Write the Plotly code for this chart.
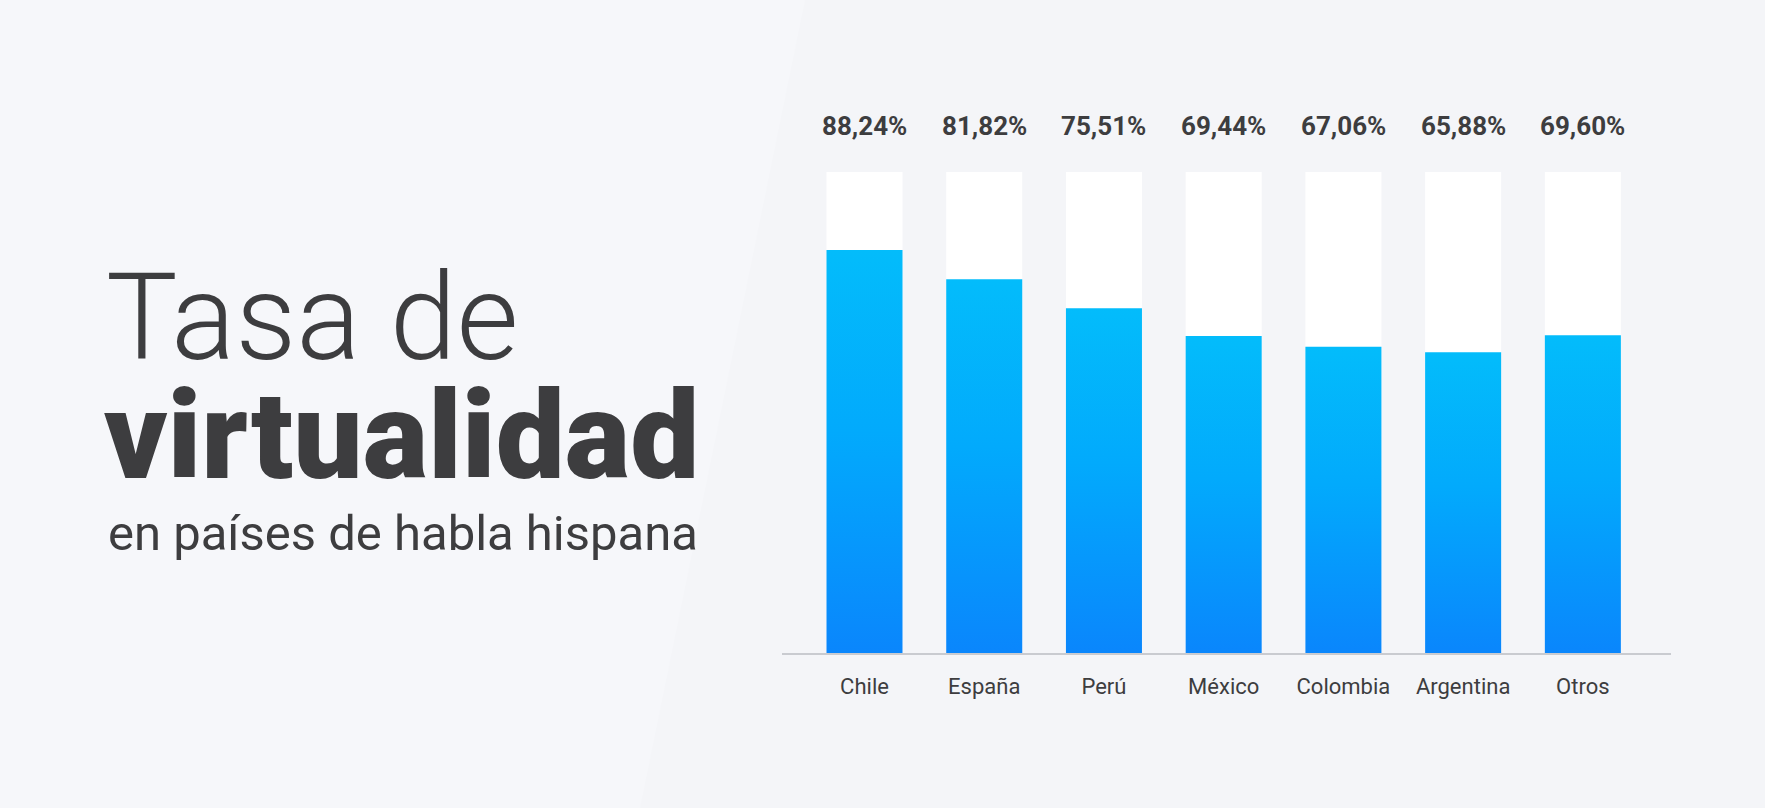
import plotly.graph_objects as go

# ---- data ----
countries = ["Chile", "España", "Perú", "México", "Colombia", "Argentina", "Otros"]
rates = [88.24, 81.82, 75.51, 69.44, 67.06, 65.88, 69.60]
rate_labels = ["88,24%", "81,82%", "75,51%", "69,44%", "67,06%", "65,88%", "69,60%"]

title_line1 = "Tasa de"
title_line2 = "virtualidad"
subtitle = "en países de habla hispana"

# ---- style ----
Y_MAX = 105.3          # top of the white track bars (axis range top)
BAR_W = 0.635
BG = "#f4f5f8"
BG_LIGHT = "#f6f7fa"
TEXT = "#3d3d3f"
FONT = "Roboto"
W, H = 1765, 808

fig = go.Figure()

x_idx = list(range(len(countries)))

# white track bars spanning the whole value axis
fig.add_trace(go.Bar(
    x=x_idx, y=[Y_MAX] * len(countries), width=BAR_W,
    marker=dict(color="#ffffff", line=dict(width=0)),
    hoverinfo="skip", showlegend=False,
))

# blue gradient bars (one filled rectangle per value)
for i, (c, v) in enumerate(zip(countries, rates)):
    x0, x1 = i - BAR_W / 2, i + BAR_W / 2
    fig.add_trace(go.Scatter(
        x=[x0, x1, x1, x0, x0], y=[0, 0, v, v, 0],
        mode="lines", line=dict(width=0), fill="toself",
        fillgradient=dict(type="vertical",
                          colorscale=[[0, "#0a86fc"], [0.55, "#02aafc"], [1, "#03bcfb"]]),
        name=c, hovertemplate=f"{c}: {v}%<extra></extra>", showlegend=False,
    ))

# value labels above the tracks
for i, lab in enumerate(rate_labels):
    fig.add_annotation(x=i, y=Y_MAX, xref="x", yref="y", text=lab, showarrow=False,
                       yanchor="middle", yshift=46,
                       font=dict(family=FONT, size=26, color=TEXT, weight=700))

# title block
fig.add_annotation(x=0.059, y=0.606, xref="paper", yref="paper", xanchor="left", yanchor="middle",
                   text=title_line1, showarrow=False,
                   font=dict(family=FONT, size=120, color=TEXT, weight=300))
fig.add_annotation(x=0.058, y=0.4604, xref="paper", yref="paper", xanchor="left", yanchor="middle",
                   text=title_line2, showarrow=False,
                   font=dict(family=FONT, size=123, color=TEXT, weight=900))
fig.add_annotation(x=0.060, y=0.340, xref="paper", yref="paper", xanchor="left", yanchor="middle",
                   text=subtitle, showarrow=False,
                   font=dict(family=FONT, size=49, color=TEXT, weight=400))

# subtle diagonal background split
fig.add_shape(type="path", xref="paper", yref="paper", layer="below",
              path=f"M 0 0 L {640/W} 0 L {805/W} 1 L 0 1 Z",
              fillcolor=BG_LIGHT, line=dict(width=0))

fig.update_layout(
    width=W, height=H,
    margin=dict(l=0, r=0, t=0, b=0),
    paper_bgcolor=BG, plot_bgcolor="rgba(0,0,0,0)",
    showlegend=False,
    xaxis=dict(domain=[0.443, 0.947], range=[-0.69, 6.74],
               tickvals=x_idx, ticktext=countries, ticks="",
               showgrid=False, zeroline=False,
               showline=True, linecolor="#c9cbd0", linewidth=2,
               tickfont=dict(family=FONT, size=22, color=TEXT),
               ticklabelstandoff=13, fixedrange=True),
    yaxis=dict(domain=[0.1918, 0.787], range=[0, Y_MAX],
               showgrid=False, zeroline=False, showticklabels=False,
               showline=False, fixedrange=True),
)

fig.write_html("out.html", config={"displayModeBar": False})

# remove the browser's default page margin so the figure fills the window
with open("out.html", "r", encoding="utf-8") as f:
    html = f.read()
html = html.replace("<head>", "<head><style>html,body{margin:0;padding:0;overflow:hidden;}</style>", 1)
with open("out.html", "w", encoding="utf-8") as f:
    f.write(html)
